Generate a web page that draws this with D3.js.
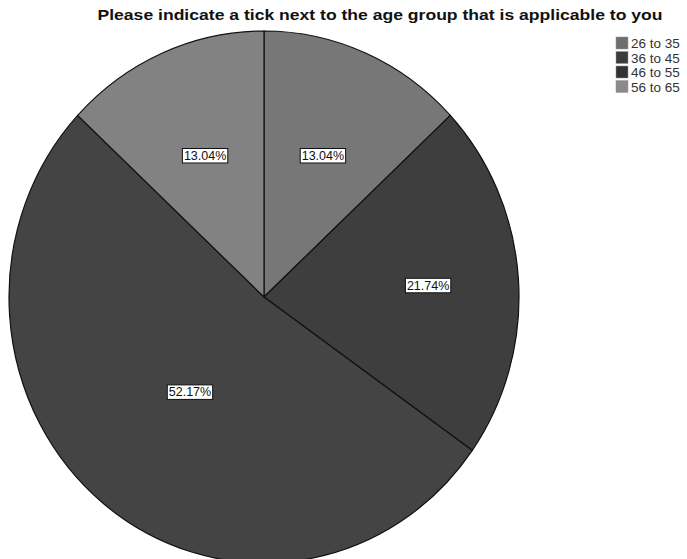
<!DOCTYPE html>
<html><head><meta charset="utf-8">
<script src="https://cdn.jsdelivr.net/npm/d3@7"></script>
<style>body{margin:0;background:#fff}svg{display:block}</style>
</head><body>
<svg id="c" width="687" height="559"></svg>
<script>
const categories = ["26 to 35", "36 to 45", "46 to 55", "56 to 65"];
const percents = [13.04, 21.74, 52.17, 13.04];
const labels = ["13.04%", "21.74%", "52.17%", "13.04%"];
const colors = ["#777777", "#3e3e3e", "#444444", "#828282"];
const legendColors = ["#6e6e6e", "#3c3c3c", "#333333", "#8a8a8a"];
const title = "Please indicate a tick next to the age group that is applicable to you";

const svg = d3.select("#c");
const cx = 264, cy = 297, rx = 255, ry = 266;
const font = "Arial, 'Liberation Sans', sans-serif";

svg.append("text").attr("x", 380).attr("y", 20).attr("text-anchor", "middle")
  .attr("font-family", font).attr("font-weight", "bold").attr("font-size", 15.5)
  .attr("textLength", 565).attr("lengthAdjust", "spacingAndGlyphs")
  .attr("fill", "#111").text(title);

const pie = d3.pie().sort(null).value(d => d)(percents);
const arc = d3.arc().innerRadius(0).outerRadius(rx);

const g = svg.append("g").attr("transform", `translate(${cx},${cy}) scale(1,${ry/rx})`);
g.selectAll("path").data(pie).join("path")
  .attr("d", arc).attr("fill", (d,i) => colors[i])
  .attr("stroke", "#111").attr("stroke-width", 1.2)
  .attr("vector-effect", "non-scaling-stroke");

const lg = svg.append("g");
pie.forEach((d, i) => {
  const span = d.endAngle - d.startAngle;
  const mid = (d.startAngle + d.endAngle) / 2;
  const f = span > Math.PI ? 0.46 : (span > 1 ? 0.645 : 0.58);
  const x = cx + Math.sin(mid) * rx * f;
  const y = cy - Math.cos(mid) * ry * f;
  const t = lg.append("text").attr("x", x).attr("y", y + 4.5).attr("text-anchor", "middle")
    .attr("font-family", font).attr("font-size", 12.5).attr("fill", "#111").text(labels[i]);
  const bb = t.node().getBBox();
  lg.insert("rect", () => t.node())
    .attr("x", bb.x - 1.5).attr("y", bb.y - 0.5).attr("width", bb.width + 3).attr("height", bb.height + 0.5)
    .attr("fill", "#fff").attr("stroke", "#111").attr("stroke-width", 1);
});

const leg = svg.append("g").attr("transform", "translate(616,37)");
categories.forEach((c, i) => {
  const y = i * 14.5;
  leg.append("rect").attr("x", 0).attr("y", y).attr("width", 12).attr("height", 12)
    .attr("fill", legendColors[i]).attr("stroke", "#999").attr("stroke-width", 0.5);
  leg.append("text").attr("x", 15).attr("y", y + 11)
    .attr("font-family", font).attr("font-size", 13.5).attr("fill", "#333").text(c);
});
</script>
</body></html>
